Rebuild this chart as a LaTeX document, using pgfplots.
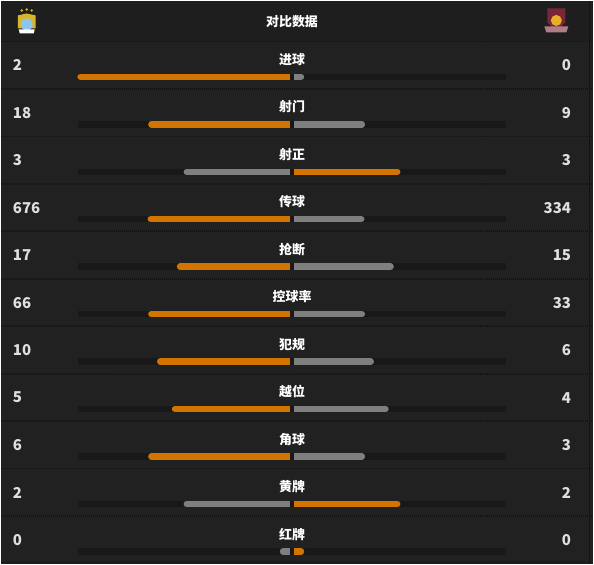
\documentclass[border=0pt]{standalone}
\usepackage{fontspec}
\setmainfont{Noto Sans CJK SC}
\usepackage{pgfplots}
\usepackage{pgfplotstable}
\pgfplotsset{compat=1.18}
\definecolor{bg}{HTML}{212121}
\definecolor{hdr}{HTML}{1E1E1E}
\definecolor{sep}{HTML}{131313}
\definecolor{track}{HTML}{181818}
\definecolor{orangebar}{HTML}{D37300}
\definecolor{graybar}{HTML}{7F7F7F}
\definecolor{numc}{HTML}{DDDFE2}
\definecolor{cityblue}{HTML}{8CC6E8}
\definecolor{cityyel}{HTML}{D9B52C}
\definecolor{claret}{HTML}{7A2638}
\definecolor{hamyel}{HTML}{E9B026}

% stat rows: number position, values, name
\pgfplotstableread{
y a b name
65 2 0 进球
112.6 18 9 射门
160.2 3 3 射正
207.8 676 334 传球
255.4 17 15 抢断
303 66 33 控球率
350.6 10 6 犯规
398.2 5 4 越位
445.8 6 3 角球
493.4 2 2 黄牌
541 0 0 红牌
}\stats

% bar length on each side = 213 px * share of the row total (min 10 px)
% columns: inner end (square), centre of the rounded outer cap, row y
\pgfplotstableread{
x y
290 76.5
80 76.5
nan nan
290 124.1
151 124.1
nan nan
294 171.7
397.5 171.7
nan nan
290 219.3
150.4 219.3
nan nan
290 266.9
179.8 266.9
nan nan
290 314.5
151 314.5
nan nan
290 362.1
159.9 362.1
nan nan
290 409.7
174.7 409.7
nan nan
290 457.3
151 457.3
nan nan
294 504.9
397.5 504.9
nan nan
294 552.5
301 552.5
}\orangebars

\pgfplotstableread{
x y
286.75 76.5
80 76.5
nan nan
286.75 124.1
151 124.1
nan nan
297.25 171.7
397.5 171.7
nan nan
286.75 219.3
150.4 219.3
nan nan
286.75 266.9
179.8 266.9
nan nan
286.75 314.5
151 314.5
nan nan
286.75 362.1
159.9 362.1
nan nan
286.75 409.7
174.7 409.7
nan nan
286.75 457.3
151 457.3
nan nan
297.25 504.9
397.5 504.9
nan nan
297.25 552.5
301 552.5
}\orangecaps

\pgfplotstableread{
x y
294 76.5
301 76.5
nan nan
294 124.1
362 124.1
nan nan
290 171.7
186.5 171.7
nan nan
294 219.3
361.4 219.3
nan nan
294 266.9
390.8 266.9
nan nan
294 314.5
362 314.5
nan nan
294 362.1
370.9 362.1
nan nan
294 409.7
385.7 409.7
nan nan
294 457.3
362 457.3
nan nan
290 504.9
186.5 504.9
nan nan
290 552.5
283 552.5
}\graybars

\pgfplotstableread{
x y
297.25 76.5
301 76.5
nan nan
297.25 124.1
362 124.1
nan nan
286.75 171.7
186.5 171.7
nan nan
297.25 219.3
361.4 219.3
nan nan
297.25 266.9
390.8 266.9
nan nan
297.25 314.5
362 314.5
nan nan
297.25 362.1
370.9 362.1
nan nan
297.25 409.7
385.7 409.7
nan nan
297.25 457.3
362 457.3
nan nan
286.75 504.9
186.5 504.9
nan nan
286.75 552.5
283 552.5
}\graycaps

% background tracks
\pgfplotstableread{
x y
77 76.5
507 76.5
nan nan
77 124.1
507 124.1
nan nan
77 171.7
507 171.7
nan nan
77 219.3
507 219.3
nan nan
77 266.9
507 266.9
nan nan
77 314.5
507 314.5
nan nan
77 362.1
507 362.1
nan nan
77 409.7
507 409.7
nan nan
77 457.3
507 457.3
nan nan
77 504.9
507 504.9
nan nan
77 552.5
507 552.5
}\tracks

\begin{document}
\begin{tikzpicture}
\begin{axis}[
  width=594pt, height=565pt, scale only axis,
  xmin=0, xmax=594, ymin=0, ymax=565, y dir=reverse,
  axis lines=none,
  unbounded coords=jump,
  clip=false,
]
% backgrounds
\fill[bg] (axis cs:0,0) rectangle (axis cs:594,565);
\fill[hdr] (axis cs:0,0) rectangle (axis cs:594,41);
\pgfplotsinvokeforeach{41,88.6,136.2,183.8,231.4,279,326.6,374.2,421.8,469.4,517,563.5}{
  \draw[sep, line width=1.6pt, dash pattern=on 1pt off 1pt] (axis cs:0,#1) -- (axis cs:594,#1);
}
\draw[sep, line width=1pt] (axis cs:590,0) -- (axis cs:590,565);

% title
\node[text=white, font=\fontsize{13}{15}\selectfont\bfseries] at (axis cs:292,21) {对比数据};

% Man City crest (simplified)
\fill[cityyel] (axis cs:21,10) circle[radius=1.3pt];
\fill[cityyel] (axis cs:26,9) circle[radius=1.3pt];
\fill[cityyel] (axis cs:31,10) circle[radius=1.3pt];
\fill[cityyel] (axis cs:17,15) -- (axis cs:26,13) -- (axis cs:35,15) -- (axis cs:35,28) -- (axis cs:17,28) -- cycle;
\fill[cityblue] (axis cs:26,24) circle[radius=6pt];
\fill[white] (axis cs:18,29) -- (axis cs:34,29) -- (axis cs:33,33) -- (axis cs:19,33) -- cycle;
% West Ham crest (simplified)
\fill[claret] (axis cs:548,8) -- (axis cs:566,8) -- (axis cs:566,22) -- (axis cs:557,31) -- (axis cs:548,22) -- cycle;
\fill[hamyel] (axis cs:557,20) circle[radius=5.5pt];
\fill[claret!60!white] (axis cs:545,26) -- (axis cs:569,26) -- (axis cs:567,32) -- (axis cs:547,32) -- cycle;

% tracks
\addplot[track, line width=6.5pt, line cap=butt, mark=none] table[x=x,y=y] {\tracks};
% bars: square inner part + rounded outer part
\addplot[orangebar, line width=6.5pt, line cap=butt, mark=none] table[x=x,y=y] {\orangebars};
\addplot[orangebar, line width=6.5pt, line cap=round, mark=none] table[x=x,y=y] {\orangecaps};
\addplot[graybar, line width=6.5pt, line cap=butt, mark=none] table[x=x,y=y] {\graybars};
\addplot[graybar, line width=6.5pt, line cap=round, mark=none] table[x=x,y=y] {\graycaps};

% left numbers
\addplot[draw=none, mark=none, nodes near coords, point meta=explicit symbolic,
  every node near coord/.append style={anchor=west, inner sep=0pt, text=numc, font=\fontsize{15}{17}\selectfont\bfseries}]
  table[x expr=12, y=y, meta=a] {\stats};
% right numbers
\addplot[draw=none, mark=none, nodes near coords, point meta=explicit symbolic,
  every node near coord/.append style={anchor=east, inner sep=0pt, text=numc, font=\fontsize{15}{17}\selectfont\bfseries}]
  table[x expr=572, y=y, meta=b] {\stats};
% names
\addplot[draw=none, mark=none, nodes near coords, point meta=explicit symbolic,
  every node near coord/.append style={anchor=center, inner sep=0pt, text=white, font=\fontsize{13}{15}\selectfont\bfseries}]
  table[x expr=292, y expr=\thisrow{y}-6, meta=name] {\stats};
\end{axis}
\end{tikzpicture}
\end{document}
